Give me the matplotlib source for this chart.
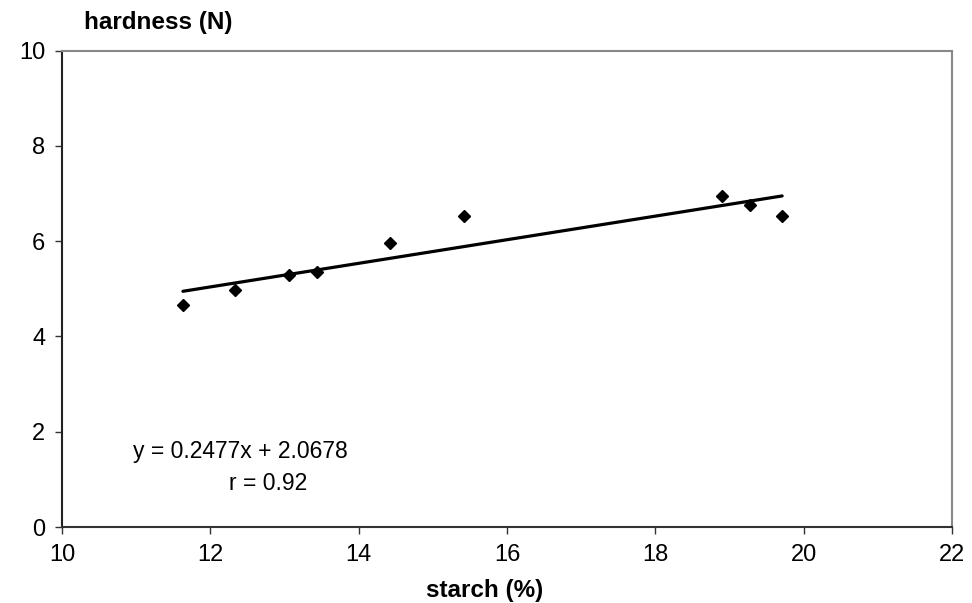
import matplotlib.pyplot as plt
import numpy as np

plt.rcParams["font.family"] = ["Liberation Sans", "DejaVu Sans"]

# starch content (%) vs hardness (N)
starch = [11.63, 12.33, 13.06, 13.44, 14.42, 15.42, 18.90, 19.28, 19.71]
hardness = [4.66, 4.98, 5.29, 5.36, 5.97, 6.53, 6.94, 6.75, 6.52]
slope, intercept, r = 0.2477, 2.0678, 0.92

fig = plt.figure(figsize=(9.72, 6.03), dpi=100)
ax = fig.add_axes([0.0638, 0.126, 0.9156, 0.790])

xfit = np.array([min(starch), max(starch)])
ax.plot(xfit, slope * xfit + intercept, color="black", lw=2.3, solid_capstyle="round", zorder=2)
ax.plot(starch, hardness, linestyle="none", marker="D", ms=6.5, color="black", zorder=3)

ax.set_xlim(10, 22)
ax.set_ylim(0, 10)
ax.set_xticks(range(10, 23, 2))
ax.set_yticks(range(0, 11, 2))
ax.tick_params(direction="out", length=5, width=1, labelsize=17, pad=7, color="#333333")

for side in ("top", "right"):
    ax.spines[side].set_color("#888888")
    ax.spines[side].set_linewidth(1.5)
ax.spines["left"].set_color("#222222")
ax.spines["bottom"].set_color("#333333")
ax.spines["left"].set_linewidth(1.5)
ax.spines["bottom"].set_linewidth(1.5)

ax.text(12.41, 1.58, f"y = {slope}x + {intercept}", ha="center", va="center", fontsize=16.5)
ax.text(12.78, 0.92, f"r = {r}", ha="center", va="center", fontsize=16.5)

fig.text(158 / 972, 1 - 23 / 603, "hardness (N)", ha="center", va="center",
         fontsize=17.5, fontweight="bold")
fig.text(485 / 972, 1 - 590 / 603, "starch (%)", ha="center", va="center",
         fontsize=17.5, fontweight="bold")

fig.savefig("out.png", dpi=100)
